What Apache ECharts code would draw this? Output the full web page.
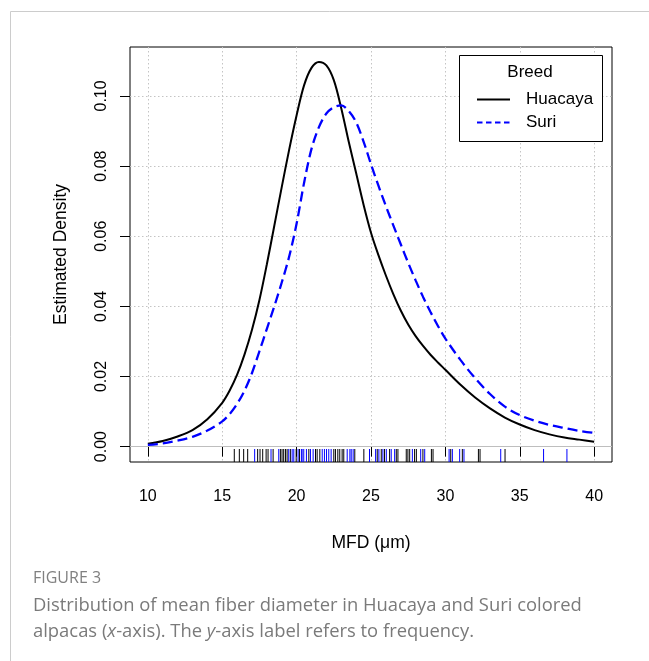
<!DOCTYPE html>
<html><head><meta charset="utf-8">
<script src="https://cdn.jsdelivr.net/npm/echarts@6/dist/echarts.min.js"></script>
<style>html,body{margin:0;padding:0;background:#fff}#c{width:649px;height:661px}</style>
</head><body><div id="c"></div>
<script>
const X_TICKS = [10, 15, 20, 25, 30, 35, 40];
const Y_TICKS = [0, 0.02, 0.04, 0.06, 0.08, 0.10];
const MFD = [10, 11, 12, 13, 14, 15, 15.5, 16, 16.5, 17, 17.5, 18, 18.5, 19, 19.5, 20, 20.5, 21, 21.5, 22, 22.5, 23, 23.5, 24, 24.5, 25, 25.5, 26, 26.5, 27, 27.5, 28, 28.5, 29, 29.5, 30, 31, 32, 33, 34, 35, 36, 37, 38, 39, 40];
const HUACAYA = [0.0008, 0.0016, 0.0029, 0.0047, 0.0078, 0.0125, 0.0160, 0.0205, 0.0263, 0.0333, 0.0418, 0.0520, 0.0630, 0.0740, 0.0847, 0.0945, 0.1030, 0.1080, 0.1097, 0.1087, 0.1045, 0.0965, 0.0870, 0.0780, 0.0690, 0.0610, 0.0546, 0.0488, 0.0435, 0.0388, 0.0348, 0.0315, 0.0287, 0.0262, 0.0240, 0.0219, 0.0177, 0.0140, 0.0109, 0.0083, 0.0063, 0.0047, 0.0035, 0.0026, 0.0020, 0.0014];
const SURI = [0.0005, 0.0009, 0.0017, 0.0028, 0.0046, 0.0072, 0.0093, 0.0122, 0.0160, 0.0210, 0.0272, 0.0336, 0.0400, 0.0468, 0.0542, 0.0636, 0.0752, 0.0849, 0.0911, 0.0950, 0.0968, 0.0973, 0.0957, 0.0925, 0.0870, 0.0805, 0.0744, 0.0686, 0.0631, 0.0577, 0.0524, 0.0474, 0.0427, 0.0384, 0.0344, 0.0308, 0.0248, 0.0195, 0.0150, 0.0114, 0.0090, 0.0074, 0.0062, 0.0053, 0.0045, 0.0039];
const HUACAYA_RUG = [15.81, 16.15, 16.44, 16.71, 17.38, 17.54, 17.72, 17.95, 18.08, 18.42, 18.91, 19.02, 19.13, 19.25, 19.36, 19.58, 19.97, 20.19, 20.82, 21.27, 21.38, 21.56, 22.50, 22.61, 22.77, 22.90, 23.06, 23.17, 23.91, 24.52, 25.42, 25.69, 25.91, 26.25, 26.70, 26.81, 27.37, 27.48, 27.60, 27.93, 28.05, 28.49, 29.06, 29.17, 30.36, 31.14, 32.22, 32.33, 34.01];
const SURI_RUG = [17.18, 18.28, 18.80, 19.47, 19.70, 19.81, 20.10, 20.32, 20.37, 20.48, 20.66, 20.93, 21.11, 21.72, 21.87, 22.01, 22.16, 22.32, 23.40, 23.58, 23.67, 23.80, 24.90, 25.31, 25.53, 25.80, 26.03, 26.36, 26.59, 27.78, 28.34, 28.61, 30.25, 30.47, 30.96, 31.25, 33.72, 36.60, 38.17];
const SERIES_NAMES = ['Huacaya', 'Suri'];
const LEGEND_TITLE = 'Breed';
const X_NAME = 'MFD (μm)';
const Y_NAME = 'Estimated Density';
const FIG_LABEL = 'FIGURE 3';
const CAPTION_1 = 'Distribution of mean fiber diameter in Huacaya and Suri colored';
const CAPTION_2 = '{n|alpacas (}{i|x}{n|-axis). The }{i|y}{n|-axis label refers to frequency.}';

const X_MIN = 8.8, X_MAX = 41.2, Y_MIN = -0.00438, Y_MAX = 0.11395;
const PF = 'Liberation Sans, Arial, sans-serif';
const CF = 'Open Sans, sans-serif';
const CAP_COLOR = '#7a7a7a';

const chart = echarts.init(document.getElementById('c'), null, {renderer: 'canvas'});

function rugSeries(values, color) {
  return {
    type: 'custom',
    silent: true,
    z: 3,
    data: values.map(v => [v, 0]),
    encode: {x: 0, y: 1},
    renderItem: function (params, api) {
      const p = api.coord([api.value(0), Y_MIN]);
      return {
        type: 'line',
        shape: {x1: p[0], y1: p[1], x2: p[0], y2: p[1] - 13},
        style: {stroke: color, lineWidth: 1}
      };
    }
  };
}

const gridLine = {show: true, lineStyle: {color: '#c4c4c4', type: [1.5, 2.5], width: 1}};

chart.setOption({
  animation: false,
  backgroundColor: '#fff',
  grid: {left: 130, top: 47, width: 482, height: 415, show: true, borderColor: '#000', borderWidth: 1, backgroundColor: 'transparent'},
  xAxis: {
    type: 'value', min: X_MIN, max: X_MAX,
    axisLine: {show: false},
    axisTick: {show: true, inside: false, length: 10, customValues: X_TICKS, lineStyle: {color: '#000', width: 1}},
    axisLabel: {customValues: X_TICKS, margin: 27, fontSize: 16, fontFamily: PF, color: '#000'},
    splitLine: gridLine,
    name: X_NAME, nameLocation: 'middle', nameGap: 72,
    nameTextStyle: {fontSize: 17.5, fontFamily: PF, color: '#000'}
  },
  yAxis: {
    type: 'value', min: Y_MIN, max: Y_MAX,
    axisLine: {show: false},
    axisTick: {show: true, inside: false, length: 10, customValues: Y_TICKS, lineStyle: {color: '#000', width: 1}},
    axisLabel: {customValues: Y_TICKS, rotate: 90, margin: 20, fontSize: 16, fontFamily: PF, color: '#000',
      formatter: v => v.toFixed(2)},
    splitLine: gridLine,
    name: Y_NAME, nameLocation: 'middle', nameGap: 60, nameRotate: 90,
    nameTextStyle: {fontSize: 17.5, fontFamily: PF, color: '#000'}
  },
  legend: {
    orient: 'vertical', left: 476, top: 91, padding: 0, itemWidth: 33, itemHeight: 16, itemGap: 6,
    selectedMode: false, z: 10,
    itemStyle: {opacity: 0},
    textStyle: {fontSize: 17, fontFamily: PF, color: '#000', padding: [0, 0, 0, 11]},
    data: [
      {name: SERIES_NAMES[0]},
      {name: SERIES_NAMES[1], lineStyle: {type: [5.5, 3.5]}}
    ]
  },
  series: [
    {
      name: SERIES_NAMES[0], type: 'line', smooth: 0.33, symbol: 'none', z: 4,
      data: MFD.map((x, i) => [x, HUACAYA[i]]),
      lineStyle: {color: '#000', width: 2}, itemStyle: {color: '#000'},
      markLine: {silent: true, symbol: 'none', label: {show: false},
        lineStyle: {color: '#bebebe', type: 'solid', width: 1}, data: [{yAxis: 0}]}
    },
    {
      name: SERIES_NAMES[1], type: 'line', smooth: 0.33, symbol: 'none', z: 4,
      data: MFD.map((x, i) => [x, SURI[i]]),
      lineStyle: {color: '#0000ff', width: 2.3, type: [10, 5]}, itemStyle: {color: '#0000ff'}
    },
    rugSeries(HUACAYA_RUG, '#000'),
    rugSeries(SURI_RUG, '#0000ff')
  ],
  graphic: [
    {type: 'polyline', silent: true, z: 1, shape: {points: [[10.5, 661], [10.5, 11.5], [649, 11.5]]},
      style: {stroke: '#cccccc', lineWidth: 1, fill: null}},
    {type: 'rect', silent: true, z: 8, shape: {x: 459.5, y: 55.5, width: 143, height: 86},
      style: {fill: '#fff', stroke: '#000', lineWidth: 1}},
    {type: 'text', silent: true, z: 9, x: 530, y: 72.5,
      style: {text: LEGEND_TITLE, font: '17px ' + PF, fill: '#000', align: 'center', verticalAlign: 'middle'}},
    {type: 'text', silent: true, z: 9, x: 33, y: 578,
      style: {text: FIG_LABEL, font: '16px ' + CF, fill: '#808080', align: 'left', verticalAlign: 'middle'}},
    {type: 'text', silent: true, z: 9, x: 33, y: 606,
      style: {text: CAPTION_1, font: '18.4px ' + CF, fill: CAP_COLOR, align: 'left', verticalAlign: 'middle'}},
    {type: 'text', silent: true, z: 9, x: 33, y: 632,
      style: {
        text: CAPTION_2,
        align: 'left', verticalAlign: 'middle', fill: CAP_COLOR, font: '18.4px ' + CF,
        rich: {
          n: {fontSize: 18.4, fontFamily: CF, fill: CAP_COLOR, color: CAP_COLOR},
          i: {fontSize: 18.4, fontFamily: CF, fontStyle: 'italic', fill: CAP_COLOR, color: CAP_COLOR}
        }
      }}
  ]
});
</script></body></html>
